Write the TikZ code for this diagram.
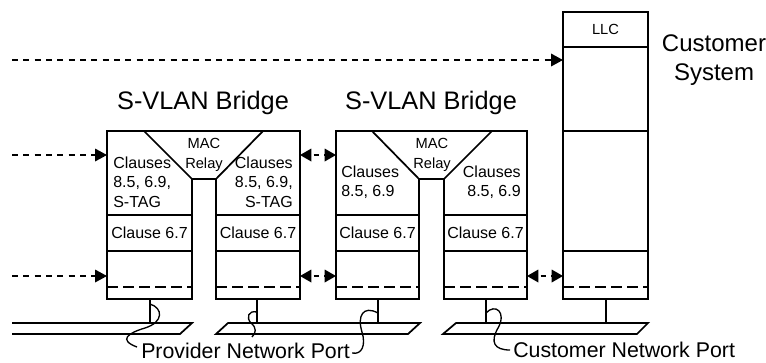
\documentclass[tikz,border=0pt]{standalone}
\usepackage{fontspec}
\setmainfont{Liberation Sans}
\usetikzlibrary{arrows.meta,positioning,calc}

\begin{document}
\begin{tikzpicture}[x=0.75pt, y=-0.75pt,
  wall/.style={line width=1.3pt},
  sublayer/.style={line width=1.3pt, dash pattern=on 8pt off 4pt},
  stub/.style={line width=2.2pt},
  sig/.style={line width=1pt, dash pattern=on 4.5pt off 4pt, -{Triangle[length=9pt,width=9.5pt]}},
  peer/.style={line width=1pt, dash pattern=on 4pt off 4pt, dash phase=6pt,
               {Triangle[length=8.5pt,width=9.5pt]}-{Triangle[length=8.5pt,width=9.5pt]}},
  curl/.style={line width=1pt},
  clause/.style={font=\fontsize{12}{14.6}\selectfont, inner sep=0pt},
  relay/.style={font=\fontsize{11}{15}\selectfont, inner sep=0pt, align=center},
  title/.style={font=\fontsize{19}{22}\selectfont, inner sep=0pt},
  portname/.style={font=\fontsize{16}{19}\selectfont, inner sep=0pt, anchor=base west}]
  \useasboundingbox (0,0) rectangle (766,362);

  % S-VLAN bridge outlines with MAC relay
  \draw[wall] (107,131) -- (300,131) -- (300,299) -- (216,299) -- (216,179)
              -- (192,179) -- (192,299) -- (107,299) -- cycle;
  \draw[wall] (144,131) -- (192,179) (216,179) -- (263,131);
  \draw[wall] (336,131) -- (527,131) -- (527,299) -- (444,299) -- (444,179)
              -- (419,179) -- (419,299) -- (336,299) -- cycle;
  \draw[wall] (372,131) -- (419,179) (444,179) -- (492,131);
  % customer system
  \draw[wall] (563,12) rectangle (648,299);
  \draw[wall] (563,47) -- (648,47) (563,131) -- (648,131);
  \draw[wall] (563,251) -- (648,251);
  \draw[sublayer] (563,287) -- (648,287);
  % layers of each port
  \foreach \l/\r in {107/192, 216/300, 336/419, 444/527} {
    \draw[wall] (\l,215) -- (\r,215) (\l,251) -- (\r,251);
    \draw[sublayer] (\l,287) -- (\r,287);
  }

  % LANs
  \draw[wall] (12,323) -- (192,323) -- (180,334) -- (12,334);
  \draw[wall] (216,334) -- (228,323) -- (420,323) -- (408,334) -- cycle;
  \draw[wall] (443,334) -- (456,323) -- (648,323) -- (637,334) -- cycle;
  \foreach \x in {150,257,378,486,606}
    \draw[stub] (\x,299) -- (\x,323);

  % texts
  \node[title] (br1) at (203,103) {S-VLAN Bridge};
  \node[title] (br2) at (431,103) {S-VLAN Bridge};
  \node[font=\fontsize{18}{21.75}\selectfont, inner sep=0pt, align=center]
       (cust) at (714,60) {Customer\\System};
  \node[relay] (llc) at (605.5,29) {LLC};
  \node[relay] (mac1) at (204,155) {MAC\\Relay};
  \node[relay] (mac2) at (432,155) {MAC\\Relay};
  \node[clause, align=left, anchor=west]  (cl1) at (113,182) {Clauses\\8.5, 6.9,\\S-TAG};
  \node[clause, align=right, anchor=east] (cl2) at (293,182) {Clauses\\8.5, 6.9,\\S-TAG};
  \node[clause, align=left, anchor=west]  (cl3) at (341,182) {Clauses\\8.5, 6.9};
  \node[clause, align=right, anchor=east] (cl4) at (521,182) {Clauses\\8.5, 6.9};
  \node[clause] (iss1) at (149.5,233) {Clause 6.7};
  \node[clause] (iss2) at (258,233) {Clause 6.7};
  \node[clause] (iss3) at (377.5,233) {Clause 6.7};
  \node[clause] (iss4) at (485.5,233) {Clause 6.7};
  \node[portname] (pnp) at (141,358) {Provider Network Port};
  \node[portname] (cnp) at (513,357.5) {Customer Network Port};

  % end points of the service arrows
  \coordinate (srcTop) at (12,60);
  \coordinate (srcHi)  at (12,155);
  \coordinate (srcLo)  at (12,276);
  \coordinate (custIn) at (563,60);
  \coordinate (p1Hi) at (107,155);
  \coordinate (p1Lo) at (107,276);
  \coordinate (p2Hi) at (300,155);
  \coordinate (p2Lo) at (300,276);
  \coordinate (p3Hi) at (336,155);
  \coordinate (p3Lo) at (336,276);
  \coordinate (p4Lo) at (527,276);
  \coordinate (custLo) at (563,276);
  \draw[sig] (srcTop) -- (custIn);
  \draw[sig] (srcHi) -- (p1Hi);
  \draw[sig] (srcLo) -- (p1Lo);
  \draw[peer] (p2Hi) -- (p3Hi);
  \draw[peer] (p2Lo) -- (p3Lo);
  \draw[peer] (p4Lo) -- (custLo);

  % leader lines to the port names
  \coordinate (s1) at (150,304);
  \coordinate (s2) at (257,312);
  \coordinate (s3) at (378,313);
  \coordinate (s4) at (486,313);
  \draw[curl] (s1) .. controls (163,308) and (164,322) .. (145,328)
              .. controls (128,333) and (118,340) .. (137,347);
  \draw[curl] (s2) .. controls (248,310) and (246,318) .. (251,323)
              .. controls (257,328) and (256,333) .. (252,337);
  \draw[curl] (pnp.base east) ++(2,-5) .. controls (362,355) and (366,345) .. (362,332)
              .. controls (357,316) and (363,305) .. (s3);
  \draw[curl] (s4) .. controls (495,303) and (507,312) .. (498,328)
              .. controls (490,342) and (494,350) .. (510,350);
\end{tikzpicture}
\end{document}
